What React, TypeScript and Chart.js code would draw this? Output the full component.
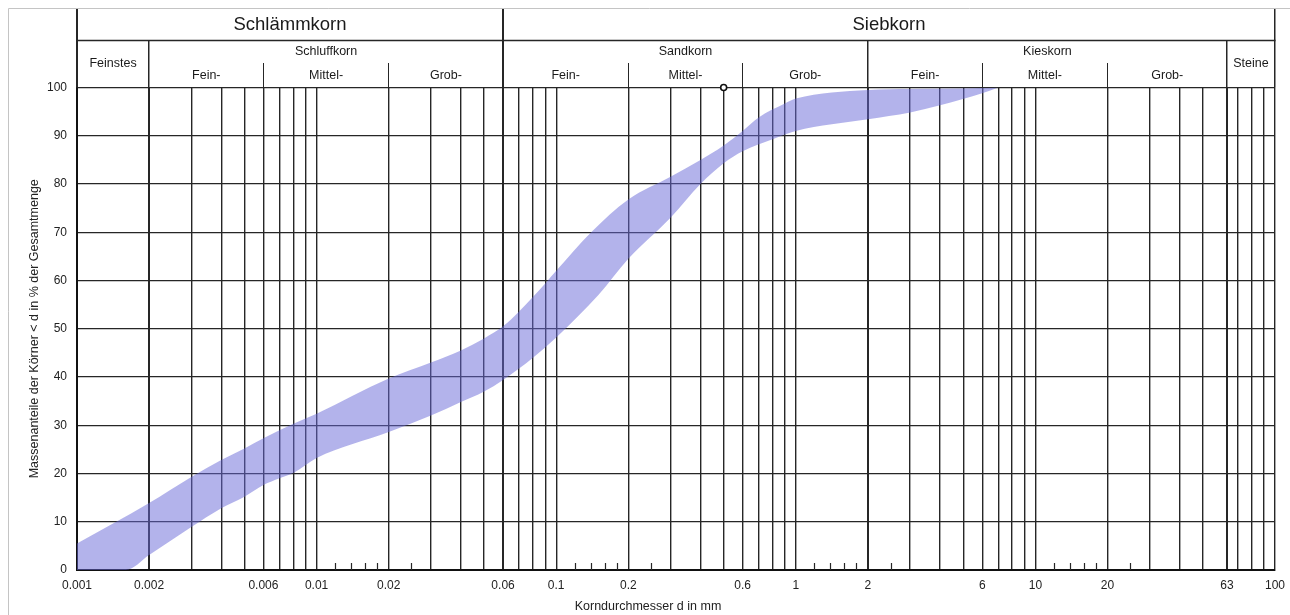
import React, { useEffect, useRef } from 'react';
import { Chart, registerables } from 'chart.js';

Chart.register(...registerables);

// ---- data (grain size in mm, passing in %) ----
const upperD = [0.001, 0.002, 0.003, 0.004, 0.005, 0.006, 0.008, 0.01, 0.02, 0.03, 0.04, 0.05, 0.06, 0.07, 0.09, 0.1, 0.14, 0.2, 0.3, 0.4, 0.5, 0.6, 0.7, 0.9, 1, 2, 3, 5, 7];
const upperP = [5.5, 13.9, 19.3, 22.8, 25.2, 27.3, 30.3, 32.4, 39.7, 43, 45.5, 48, 50.5, 53.6, 59.4, 62, 70, 76.8, 81.5, 85, 88, 91, 93.8, 96.7, 97.7, 99.5, 99.7, 99.8, 100];

const lowerD = [0.001, 0.0016, 0.002, 0.003, 0.004, 0.005, 0.006, 0.007, 0.008, 0.01, 0.02, 0.03, 0.04, 0.05, 0.06, 0.08, 0.1, 0.15, 0.2, 0.3, 0.4, 0.5, 0.6, 0.8, 1, 2, 3, 4, 6, 7];
const lowerP = [0, 0, 3.1, 8.9, 12.8, 15.2, 17.6, 19, 20.1, 23.2, 28.6, 32, 34.8, 37, 39.4, 44, 48.2, 57, 64.5, 73, 80, 84.3, 86.8, 89.3, 91, 93.4, 94.8, 96.3, 98.8, 100];

const markerD = [0.5];
const markerP = [100];

const gridValues = [
  0.001, 0.002, 0.003, 0.004, 0.005, 0.006, 0.007, 0.008, 0.009,
  0.01, 0.02, 0.03, 0.04, 0.05, 0.06, 0.07, 0.08, 0.09,
  0.1, 0.2, 0.3, 0.4, 0.5, 0.6, 0.7, 0.8, 0.9,
  1, 2, 3, 4, 5, 6, 7, 8, 9,
  10, 20, 30, 40, 50, 63, 70, 80, 90, 100,
];
const tickLabels = [0.001, 0.002, 0.006, 0.01, 0.02, 0.06, 0.1, 0.2, 0.6, 1, 2, 6, 10, 20, 63, 100];
const classBounds = [0.002, 0.06, 2, 63];
const minorMarks = [
  0.012, 0.014, 0.016, 0.018, 0.025,
  0.12, 0.14, 0.16, 0.18, 0.25,
  1.2, 1.4, 1.6, 1.8, 2.5,
  12, 14, 16, 18, 25,
];
const yTicks = [0, 10, 20, 30, 40, 50, 60, 70, 80, 90, 100];

const xTitle = 'Korndurchmesser d in mm';
const yTitle = 'Massenanteile der Körner < d in % der Gesamtmenge';

const mainGroups: [string, number, number][] = [
  ['Schlämmkorn', 0.001, 0.06],
  ['Siebkorn', 0.06, 100],
];
const singleGroups: [string, number, number][] = [
  ['Feinstes', 0.001, 0.002],
  ['Steine', 63, 100],
];
const groups: [string, number, number][] = [
  ['Schluffkorn', 0.002, 0.06],
  ['Sandkorn', 0.06, 2],
  ['Kieskorn', 2, 63],
];
const subGroups: [string, number, number][] = [
  ['Fein-', 0.002, 0.006], ['Mittel-', 0.006, 0.02], ['Grob-', 0.02, 0.06],
  ['Fein-', 0.06, 0.2], ['Mittel-', 0.2, 0.6], ['Grob-', 0.6, 2],
  ['Fein-', 2, 6], ['Mittel-', 6, 20], ['Grob-', 20, 63],
];

const FONT = "'Liberation Sans', Arial, sans-serif";
const LINE = '#262626';

const align = (p: number, w: number) => Math.round(p - w / 2) + w / 2;

const headerPlugin = {
  id: 'header',
  afterDraw(chart: any) {
    const ctx: CanvasRenderingContext2D = chart.ctx;
    const xs = chart.scales.x;
    const area = chart.chartArea;
    const Y0 = 9;
    const Y1 = 40;
    const Y2 = 63;
    const Y3 = area.top;
    const px = (v: number, w: number) => align(xs.getPixelForValue(v), w);
    ctx.save();

    // outer frame
    ctx.strokeStyle = '#c4c4c4';
    ctx.lineWidth = 1;
    ctx.beginPath();
    ctx.moveTo(8.5, 615);
    ctx.lineTo(8.5, 8.5);
    ctx.lineTo(1290, 8.5);
    ctx.stroke();

    const vline = (v: number, y1: number, y2: number, w: number) => {
      const x = px(v, w);
      ctx.lineWidth = w;
      ctx.beginPath();
      ctx.moveTo(x, y1);
      ctx.lineTo(x, y2);
      ctx.stroke();
    };
    ctx.strokeStyle = LINE;
    vline(0.001, Y0, Y3, 2);
    vline(0.06, Y0, Y3, 2);
    vline(100, Y0, Y3, 1.5);
    vline(0.002, Y1, Y3, 1.5);
    vline(2, Y1, Y3, 1.5);
    vline(63, Y1, Y3, 1.5);
    [0.006, 0.02, 0.2, 0.6, 6, 20].forEach((v) => vline(v, Y2, Y3, 1));

    ctx.lineWidth = 1.3;
    ctx.beginPath();
    ctx.moveTo(px(0.001, 1), Y1 + 0.5);
    ctx.lineTo(px(100, 1), Y1 + 0.5);
    ctx.stroke();

    // minor marks on the bottom axis
    ctx.lineWidth = 1.2;
    minorMarks.forEach((v) => {
      const x = px(v, 1);
      ctx.beginPath();
      ctx.moveTo(x, area.bottom);
      ctx.lineTo(x, area.bottom - 7);
      ctx.stroke();
    });

    // texts
    ctx.fillStyle = '#1a1a1a';
    ctx.textAlign = 'center';
    ctx.textBaseline = 'middle';
    const mid = (a: number, b: number) => (xs.getPixelForValue(a) + xs.getPixelForValue(b)) / 2;
    ctx.font = `18.5px ${FONT}`;
    mainGroups.forEach(([t, a, b]) => ctx.fillText(t, mid(a, b), 24.5));
    ctx.font = `12.5px ${FONT}`;
    singleGroups.forEach(([t, a, b]) => ctx.fillText(t, mid(a, b), 64));
    groups.forEach(([t, a, b]) => ctx.fillText(t, mid(a, b), 52));
    subGroups.forEach(([t, a, b]) => ctx.fillText(t, mid(a, b), 75.5));

    // x axis title (offset left of centre as in the original sheet)
    ctx.fillStyle = '#222';
    ctx.font = `12.5px ${FONT}`;
    ctx.fillText(xTitle, 648, 607);
    ctx.restore();
  },
};

export default function App() {
  const ref = useRef<HTMLCanvasElement | null>(null);

  useEffect(() => {
    if (!ref.current) return;
    Chart.defaults.font.family = FONT;
    const chart = new Chart(ref.current, {
      type: 'line',
      data: {
        datasets: [
          {
            label: 'upper',
            data: upperD.map((d, i) => ({ x: d, y: upperP[i] })),
            borderWidth: 0,
            borderColor: 'rgba(0,0,0,0)',
            backgroundColor: 'rgba(104,104,216,0.5)',
            pointRadius: 0,
            cubicInterpolationMode: 'monotone',
            fill: '+1',
          },
          {
            label: 'lower',
            data: lowerD.map((d, i) => ({ x: d, y: lowerP[i] })),
            borderWidth: 0,
            borderColor: 'rgba(0,0,0,0)',
            pointRadius: 0,
            cubicInterpolationMode: 'monotone',
            fill: false,
          },
          {
            label: 'marker',
            data: markerD.map((d, i) => ({ x: d, y: markerP[i] })),
            showLine: false,
            pointRadius: 3,
            pointBorderWidth: 1.6,
            pointBorderColor: '#111',
            pointBackgroundColor: '#fff',
            clip: false as any,
          },
        ],
      },
      options: {
        animation: false,
        responsive: false,
        events: [],
        layout: { padding: { left: 8, right: 15, top: 87.5, bottom: 0 } },
        plugins: {
          legend: { display: false },
          tooltip: { enabled: false },
        },
        scales: {
          x: {
            type: 'logarithmic',
            min: 0.001,
            max: 100,
            afterBuildTicks: (s: any) => {
              s.ticks = gridValues.map((v) => ({ value: v }));
            },
            afterFit: (s: any) => {
              s.height = 45;
              s.paddingLeft = 0;
              s.paddingRight = 0;
            },
            ticks: {
              autoSkip: false,
              maxRotation: 0,
              minRotation: 0,
              padding: 8,
              color: '#222',
              font: { size: 12 },
              callback: (v: any) => (tickLabels.includes(Number(v)) ? String(Number(v)) : ''),
            },
            grid: {
              drawTicks: false,
              color: LINE,
              lineWidth: (c: any) => (classBounds.includes(c.tick?.value) ? 2 : 1.4),
            },
            border: { display: true, color: '#111', width: 2 },
            title: { display: false, text: xTitle },
          },
          y: {
            min: 0,
            max: 100,
            afterBuildTicks: (s: any) => {
              s.ticks = yTicks.map((v) => ({ value: v }));
            },
            afterFit: (s: any) => {
              s.width = 69;
              s.paddingTop = 0;
              s.paddingBottom = 0;
            },
            ticks: {
              padding: 10,
              color: '#222',
              font: { size: 12 },
            },
            grid: {
              drawTicks: false,
              color: LINE,
              lineWidth: 1.3,
            },
            border: { display: true, color: '#111', width: 2 },
            title: {
              display: true,
              text: yTitle,
              color: '#222',
              font: { size: 12.5 },
              padding: { top: 19.5, bottom: 0 },
            },
          },
        },
      },
      plugins: [headerPlugin],
    } as any);
    return () => chart.destroy();
  }, []);

  return (
    <div style={{ position: 'fixed', left: 0, top: 0, width: 1290, height: 615, background: '#fff' }}>
      <canvas ref={ref} width={1290} height={615} style={{ display: 'block' }} />
    </div>
  );
}
